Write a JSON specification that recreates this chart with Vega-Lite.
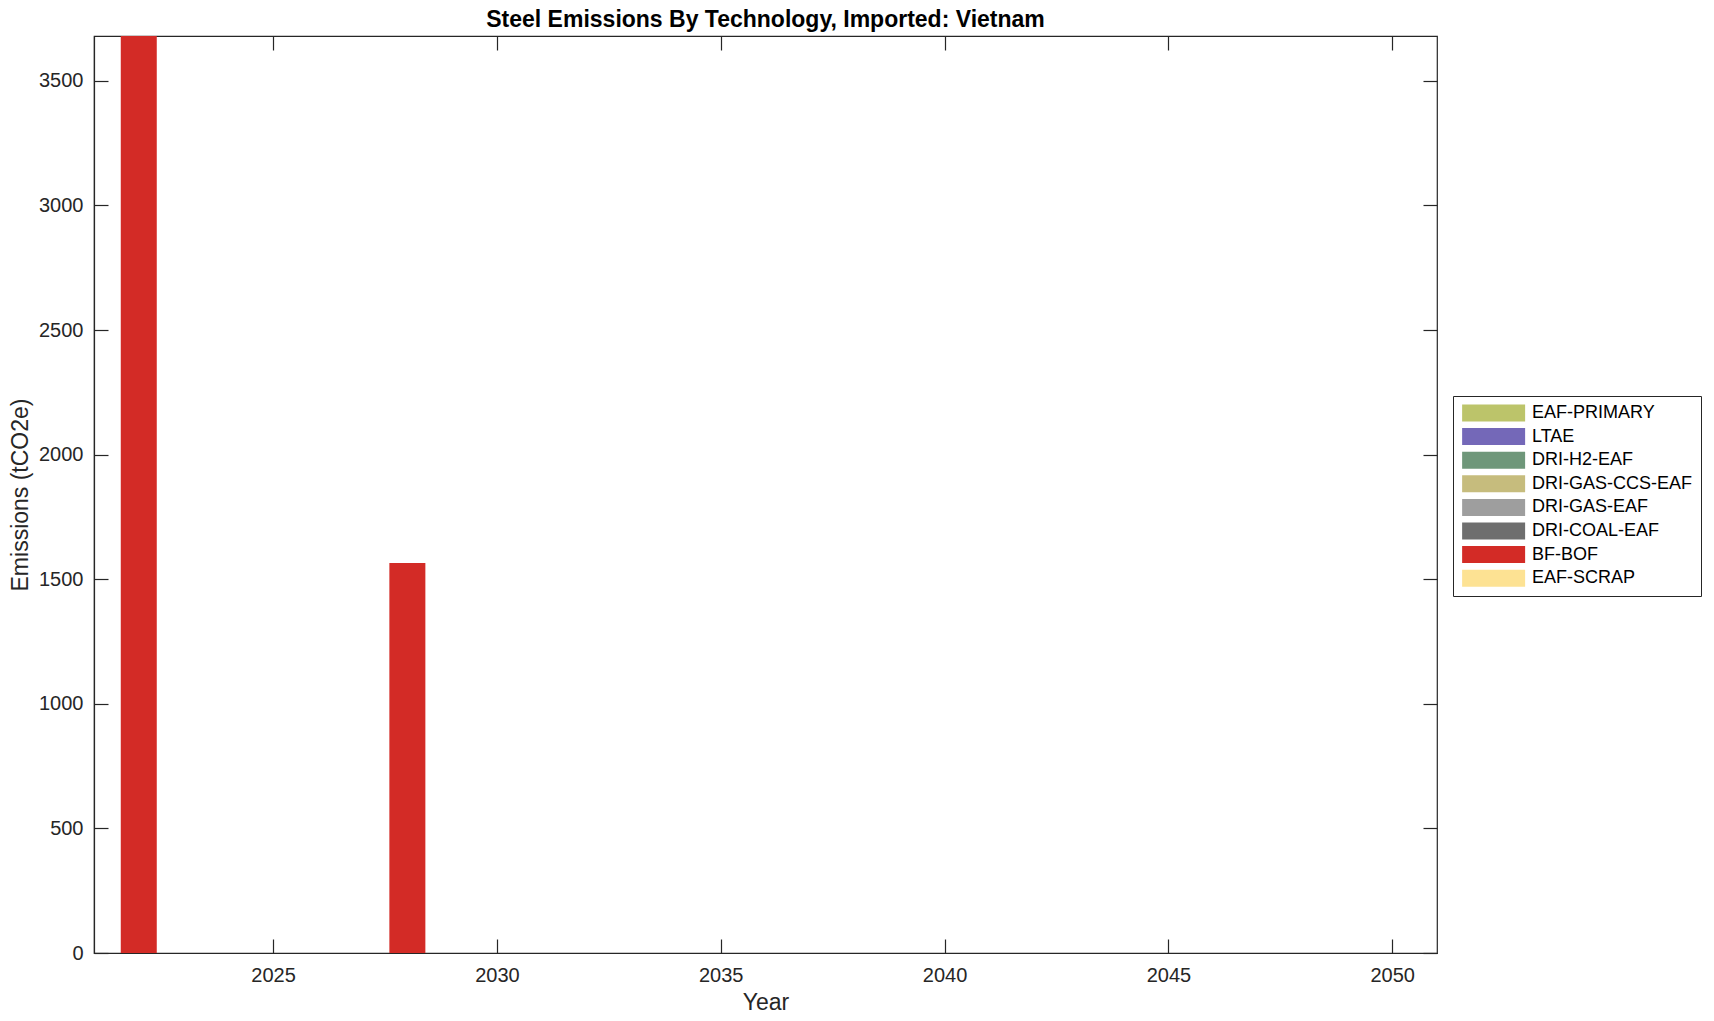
{
  "$schema": "https://vega.github.io/schema/vega-lite/v6.json",
  "width": 1343,
  "height": 917,
  "autosize": {"type": "none"},
  "padding": {"left": 94, "top": 36, "right": 277, "bottom": 68},
  "background": "white",
  "config": {
    "font": "Liberation Sans",
    "view": {"stroke": "#262626", "strokeWidth": 1.2},
    "axis": {"grid": false, "domainColor": "#262626", "tickColor": "#262626", "labelColor": "#262626", "titleColor": "#262626", "labelFont": "Liberation Sans", "titleFont": "Liberation Sans", "labelFontSize": 20, "titleFontSize": 23, "titleFontWeight": "normal", "tickSize": -14, "domainWidth": 1.2, "tickWidth": 1.2}
  },
  "title": {"text": "Steel Emissions By Technology, Imported: Vietnam", "fontSize": 23, "fontWeight": "bold", "color": "#000000", "offset": 3, "font": "Liberation Sans"},
  "data": {"values": [
    {"year": 2022, "tech": "BF-BOF", "emissions": 3680},
    {"year": 2028, "tech": "BF-BOF", "emissions": 1565}
  ]},
  "layer": [
    {
      "mark": {"type": "bar", "size": 36, "stroke": null},
      "encoding": {
        "x": {"field": "year", "type": "quantitative", "scale": {"domain": [2021, 2051], "nice": false, "zero": false, "padding": 0},
              "axis": {"orient": "bottom", "values": [2025, 2030, 2035, 2040, 2045, 2050], "format": "d", "title": "Year", "labelPadding": 26, "titlePadding": 6}},
        "y": {"field": "emissions", "type": "quantitative", "stack": "zero", "scale": {"domain": [0, 3680], "nice": false, "padding": 0},
              "axis": {"orient": "left", "values": [0, 500, 1000, 1500, 2000, 2500, 3000, 3500], "format": "d", "title": "Emissions (tCO2e)", "labelPadding": 25, "titlePadding": 6}},
        "color": {"field": "tech", "type": "nominal",
          "scale": {"domain": ["EAF-PRIMARY", "LTAE", "DRI-H2-EAF", "DRI-GAS-CCS-EAF", "DRI-GAS-EAF", "DRI-COAL-EAF", "BF-BOF", "EAF-SCRAP"],
                    "range": ["#bcc46a", "#7468b8", "#6f977a", "#c6bc7d", "#9e9e9e", "#6e6e6e", "#d32b26", "#fde293"]},
          "legend": {"title": null, "orient": "none", "legendX": 1359, "legendY": 360, "symbolType": "M-1,-1.08L7,-1.08L7,1.08L-1,1.08Z", "symbolSize": 248, "symbolStrokeWidth": 0, "labelFontSize": 18, "labelFont": "Liberation Sans", "labelColor": "#000000", "labelOffset": 53, "labelLimit": 400, "padding": 8, "strokeColor": "#262626", "fillColor": "white", "rowPadding": 5.6}
        },
        "order": {"field": "tech"}
      }
    },
    {
      "mark": {"type": "bar", "size": 36, "opacity": 0},
      "encoding": {
        "x": {"field": "year", "type": "quantitative", "scale": {"domain": [2021, 2051], "nice": false, "zero": false, "padding": 0},
              "axis": {"orient": "top", "values": [2025, 2030, 2035, 2040, 2045, 2050], "labels": false, "title": null, "domain": false}},
        "y": {"field": "emissions", "type": "quantitative", "scale": {"domain": [0, 3680], "nice": false, "padding": 0},
              "axis": {"orient": "right", "values": [0, 500, 1000, 1500, 2000, 2500, 3000, 3500], "labels": false, "title": null, "domain": false}}
      }
    }
  ],
  "resolve": {"axis": {"x": "independent", "y": "independent"}}
}
